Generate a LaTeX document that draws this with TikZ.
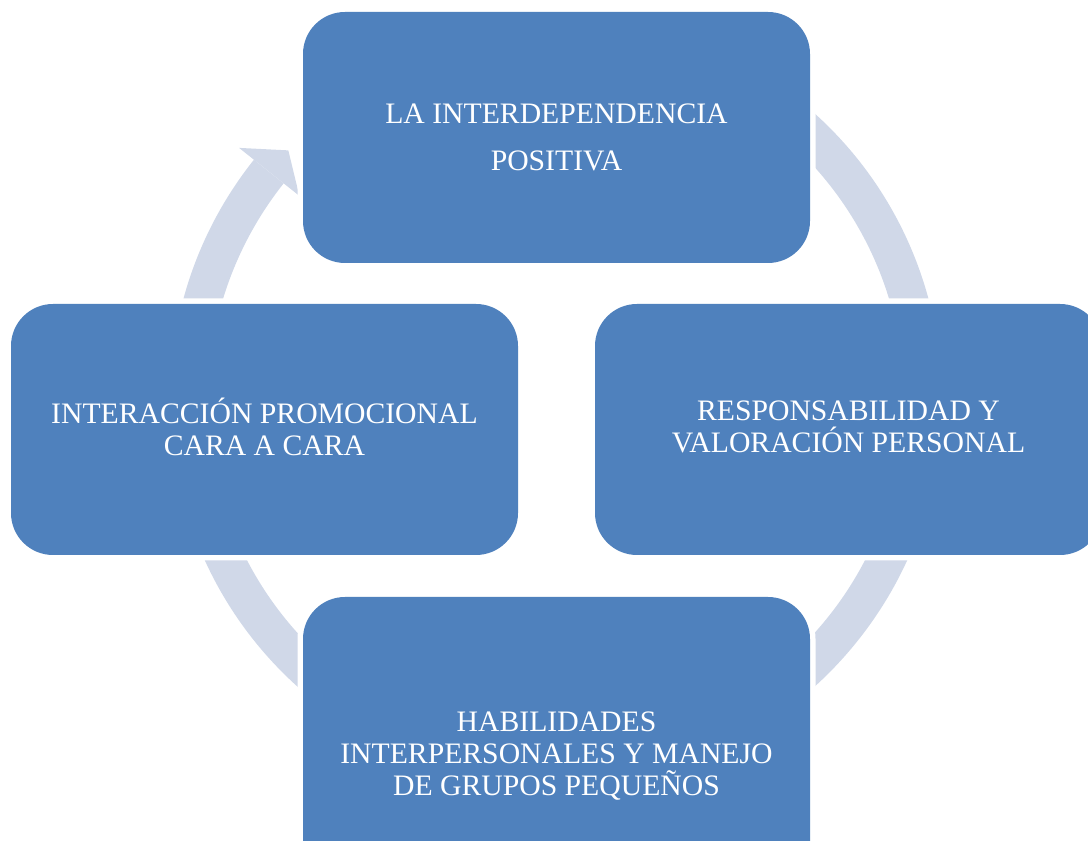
\documentclass[tikz,border=0pt]{standalone}
\usepackage{fontspec}
\setmainfont{Liberation Serif}
\definecolor{boxblue}{HTML}{4F81BD}
\definecolor{ringgray}{HTML}{D0D8E8}
\tikzset{
  stage/.style={rounded corners=42pt, fill=boxblue, preaction={draw=white, line width=11pt},
    text=white, align=center, inner sep=0pt, minimum width=507pt, minimum height=251pt,
    font=\fontsize{29.7}{32}\selectfont},
}
\begin{document}
\begin{tikzpicture}[x=1pt, y=1pt]
    \useasboundingbox (0,0) rectangle (1088,841);
    \clip (0,0) rectangle (1088,841);
    % cycle ring with its arrow head
    \coordinate (hub) at (556,441);
    \fill[ringgray, shift={(hub)}] (141.5:386) arc[start angle=141.5, end angle=450, radius=386pt]
        -- (450:348) arc[start angle=450, end angle=141.5, radius=348pt] -- cycle;
    \fill[ringgray, shift={(hub)}] (141.5:405) -- (137:366) -- (141.5:328) -- cycle;
    % the four stages
    \node[stage] (pos) at (556.5, 703.5) {LA INTERDEPENDENCIA\\[15pt]POSITIVA};
    \node[stage, text depth=6pt] (resp) at (848.5, 411.5) {RESPONSABILIDAD Y\\VALORACIÓN PERSONAL};
    \node[stage, minimum height=318pt] (skill) at (556.5, 85) {HABILIDADES\\INTERPERSONALES Y MANEJO\\DE GRUPOS PEQUEÑOS};
    \node[stage, text depth=6pt] (face) at (264.5, 411.5) {INTERACCIÓN PROMOCIONAL\\CARA A CARA};
  \end{tikzpicture}
\end{document}
